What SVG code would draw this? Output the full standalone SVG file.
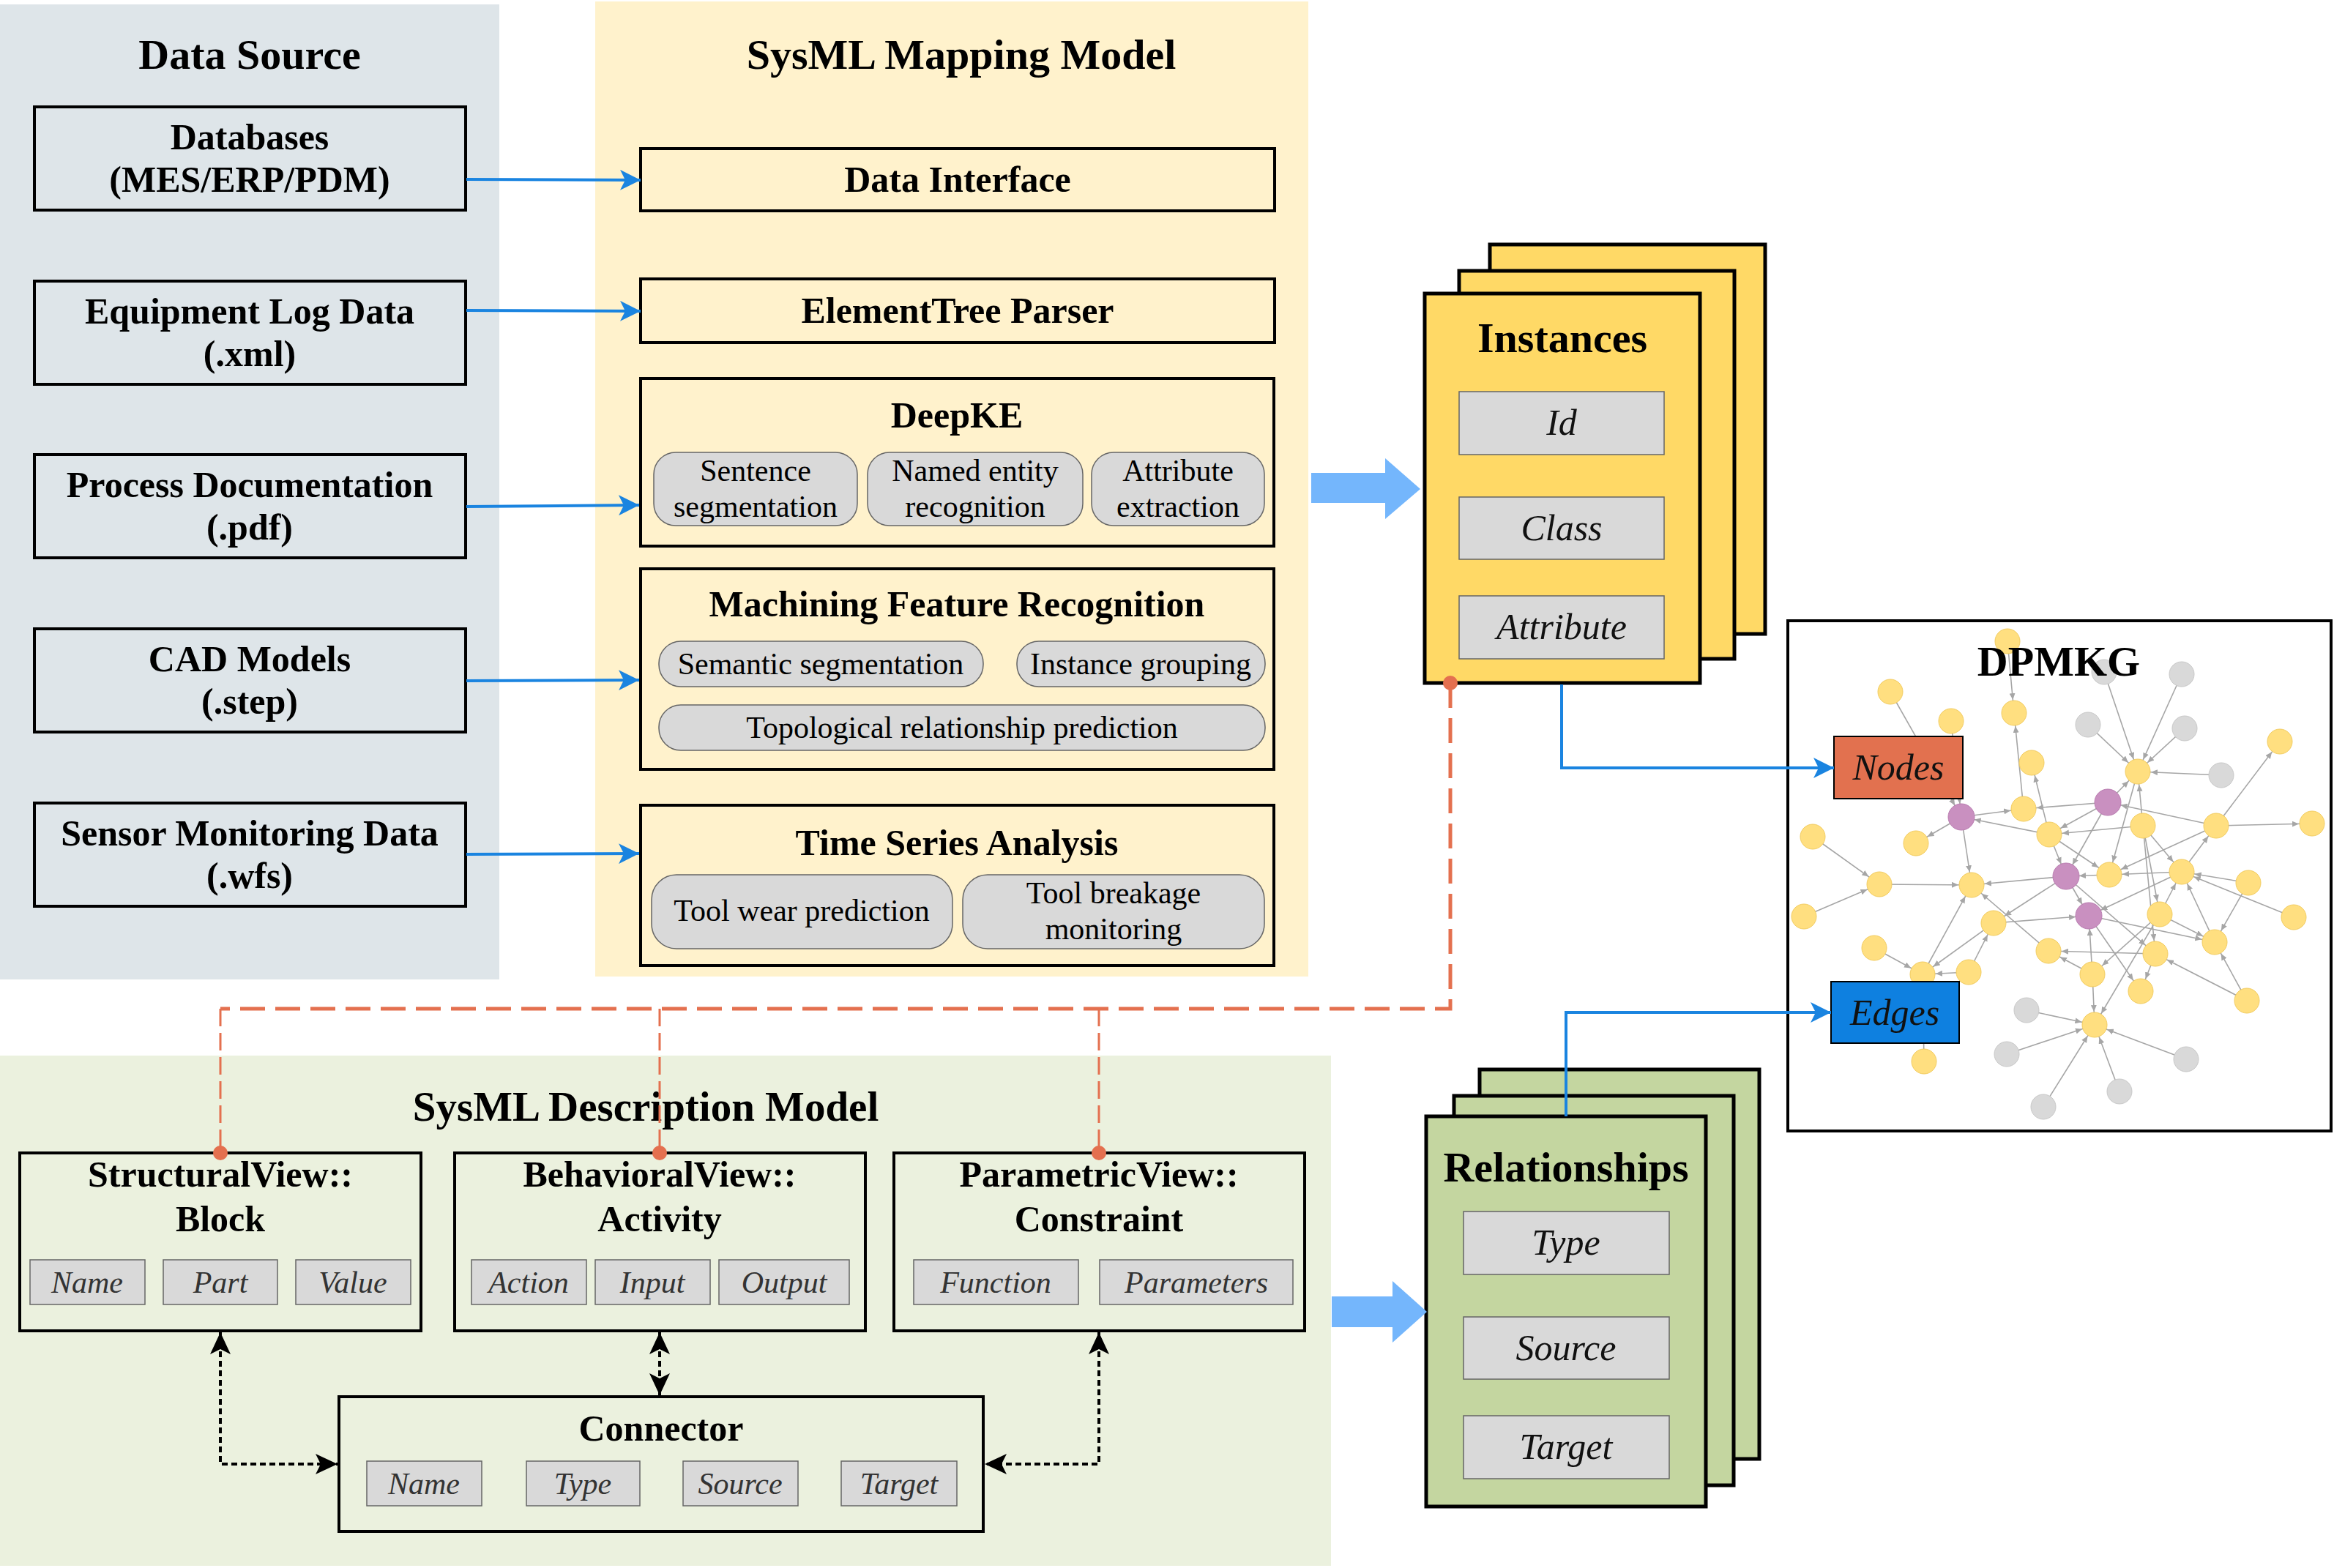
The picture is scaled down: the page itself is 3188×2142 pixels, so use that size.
<svg xmlns="http://www.w3.org/2000/svg" width="3188" height="2142" viewBox="0 0 3188 2142">
<defs>
<style>
text{font-family:"Liberation Serif","Times New Roman",serif;fill:#000;text-anchor:middle}
.title{font-size:58px;font-weight:bold}
.bt{font-size:50px;font-weight:bold}
.pt{font-size:42px}
.it{font-size:50px;font-style:italic;fill:#111}
.is{font-size:42px;font-style:italic;fill:#333}
.dsbox{fill:#DEE5E9;stroke:#000;stroke-width:4}
.mbox{fill:#FFF2CC;stroke:#000;stroke-width:4}
.pill{fill:#D9D9D9;stroke:#666;stroke-width:1.5}
.fld{fill:#D9D9D9;stroke:#666;stroke-width:1.5}
.ins{fill:#FFD966;stroke:#000;stroke-width:5}
.rel{fill:#C4D6A0;stroke:#000;stroke-width:5}
.vbox{fill:#EBF1DE;stroke:#000;stroke-width:4}
.blue{fill:none;stroke:#1A84E0;stroke-width:4;marker-end:url(#ab)}
.odash{fill:none;stroke:#E4704F;stroke-width:5;stroke-dasharray:34 14}
.odash2{fill:none;stroke:#E4704F;stroke-width:3;stroke-dasharray:24 9}
.dot{fill:#E4704F}
.blk{fill:none;stroke:#000;stroke-width:4;stroke-dasharray:8 5;marker-start:url(#ak);marker-end:url(#ak)}
.ge line{stroke:#A6A6A6;stroke-width:1.6;marker-end:url(#ag)}
.ny{fill:#FFDF80;stroke:#F2CC60;stroke-width:1}
.ng{fill:#D9D9D9;stroke:#C8C8C8;stroke-width:1}
.np{fill:#C990C0;stroke:#B97CB0;stroke-width:1}
</style>
<marker id="ab" markerUnits="userSpaceOnUse" markerWidth="30" markerHeight="28" refX="28" refY="14" orient="auto"><path d="M0,0 L28,14 L0,28 L7,14 z" fill="#1A84E0"/></marker>
<marker id="ak" markerUnits="userSpaceOnUse" markerWidth="32" markerHeight="28" refX="30" refY="14" orient="auto-start-reverse"><path d="M0,0 L30,14 L0,28 L7,14 z" fill="#000"/></marker>
<marker id="ag" markerUnits="userSpaceOnUse" markerWidth="10" markerHeight="8" refX="27" refY="4" orient="auto"><path d="M0,0 L9,4 L0,8 z" fill="#A6A6A6"/></marker>
</defs>

<rect width="3188" height="2142" fill="#fff"/>

<!-- Panels -->
<g id="panel-data-source">
<rect x="0" y="6" width="682" height="1332" fill="#DEE5E9"/>
<text class="title" x="341" y="94">Data Source</text>
</g>
<g id="panel-mapping">
<rect x="813" y="2" width="974" height="1332" fill="#FFF2CC"/>
<text class="title" x="1313" y="94">SysML Mapping Model</text>
</g>
<g id="panel-description">
<rect x="0" y="1442" width="1818" height="697" fill="#EBF1DE"/>
<text class="title" x="882" y="1531" style="font-size:57px">SysML Description Model</text>
</g>

<!-- Data source nodes -->
<g id="node-databases">
<rect class="dsbox" x="47" y="146" width="589" height="141"/>
<text class="bt" x="341" y="204">Databases</text>
<text class="bt" x="341" y="262">(MES/ERP/PDM)</text>
</g>
<g id="node-equipment-log">
<rect class="dsbox" x="47" y="384" width="589" height="141"/>
<text class="bt" x="341" y="442">Equipment Log Data</text>
<text class="bt" x="341" y="500">(.xml)</text>
</g>
<g id="node-process-doc">
<rect class="dsbox" x="47" y="621" width="589" height="141"/>
<text class="bt" x="341" y="679">Process Documentation</text>
<text class="bt" x="341" y="737">(.pdf)</text>
</g>
<g id="node-cad">
<rect class="dsbox" x="47" y="859" width="589" height="141"/>
<text class="bt" x="341" y="917">CAD Models</text>
<text class="bt" x="341" y="975">(.step)</text>
</g>
<g id="node-sensor">
<rect class="dsbox" x="47" y="1097" width="589" height="141"/>
<text class="bt" x="341" y="1155">Sensor Monitoring Data</text>
<text class="bt" x="341" y="1213">(.wfs)</text>
</g>

<!-- Mapping model nodes -->
<g id="node-data-interface">
<rect class="mbox" x="875" y="203" width="866" height="85"/>
<text class="bt" x="1308" y="262">Data Interface</text>
</g>
<g id="node-elementtree">
<rect class="mbox" x="875" y="381" width="866" height="87"/>
<text class="bt" x="1308" y="441">ElementTree Parser</text>
</g>
<g id="node-deepke">
<rect class="mbox" x="875" y="517" width="865" height="229"/>
<text class="bt" x="1307" y="584">DeepKE</text>
<rect class="pill" x="893" y="618" width="278" height="100" rx="30"/>
<text class="pt" x="1032" y="657">Sentence</text>
<text class="pt" x="1032" y="706">segmentation</text>
<rect class="pill" x="1185" y="618" width="294" height="100" rx="30"/>
<text class="pt" x="1332" y="657">Named entity</text>
<text class="pt" x="1332" y="706">recognition</text>
<rect class="pill" x="1491" y="618" width="236" height="100" rx="30"/>
<text class="pt" x="1609" y="657">Attribute</text>
<text class="pt" x="1609" y="706">extraction</text>
</g>
<g id="node-mfr">
<rect class="mbox" x="875" y="777" width="865" height="274"/>
<text class="bt" x="1307" y="842">Machining Feature Recognition</text>
<rect class="pill" x="900" y="876" width="443" height="62" rx="30"/>
<text class="pt" x="1121" y="921">Semantic segmentation</text>
<rect class="pill" x="1389" y="876" width="339" height="62" rx="30"/>
<text class="pt" x="1558" y="921">Instance grouping</text>
<rect class="pill" x="900" y="963" width="828" height="62" rx="30"/>
<text class="pt" x="1314" y="1008">Topological relationship prediction</text>
</g>
<g id="node-time-series">
<rect class="mbox" x="875" y="1100" width="865" height="219"/>
<text class="bt" x="1307" y="1168">Time Series Analysis</text>
<rect class="pill" x="890" y="1195" width="411" height="101" rx="34"/>
<text class="pt" x="1095" y="1258">Tool wear prediction</text>
<rect class="pill" x="1315" y="1195" width="412" height="101" rx="34"/>
<text class="pt" x="1521" y="1234">Tool breakage</text>
<text class="pt" x="1521" y="1283">monitoring</text>
</g>

<!-- Instances stack -->
<g id="node-instances">
<rect class="ins" x="2035" y="334" width="376" height="532"/>
<rect class="ins" x="1993" y="370" width="376" height="530"/>
<rect class="ins" x="1946" y="401" width="376" height="532"/>
<text class="title" x="2134" y="481">Instances</text>
<rect class="fld" x="1993" y="535" width="280" height="86"/>
<text class="it" x="2133" y="594">Id</text>
<rect class="fld" x="1993" y="679" width="280" height="85"/>
<text class="it" x="2133" y="738">Class</text>
<rect class="fld" x="1993" y="814" width="280" height="86"/>
<text class="it" x="2133" y="873">Attribute</text>
</g>

<!-- Relationships stack -->
<g id="node-relationships">
<rect class="rel" x="2021" y="1461" width="382" height="532"/>
<rect class="rel" x="1986" y="1497" width="382" height="532"/>
<rect class="rel" x="1948" y="1525" width="382" height="533"/>
<text class="title" x="2139" y="1614">Relationships</text>
<rect class="fld" x="1999" y="1655" width="281" height="86"/>
<text class="it" x="2139" y="1714">Type</text>
<rect class="fld" x="1999" y="1799" width="281" height="85"/>
<text class="it" x="2139" y="1858">Source</text>
<rect class="fld" x="1999" y="1934" width="281" height="86"/>
<text class="it" x="2139" y="1993">Target</text>
</g>

<!-- DPMKG -->
<g id="node-dpmkg">
<rect x="2442" y="848" width="742" height="697" fill="#fff" stroke="#000" stroke-width="4"/>
<g class="ge">
<line x1="2742" y1="876" x2="2751" y2="974"/>
<line x1="2874" y1="918" x2="2920" y2="1054"/>
<line x1="2980" y1="921" x2="2920" y2="1054"/>
<line x1="2852" y1="990" x2="2920" y2="1054"/>
<line x1="2984" y1="995" x2="2920" y2="1054"/>
<line x1="3034" y1="1059" x2="2920" y2="1054"/>
<line x1="2582" y1="945" x2="2679" y2="1116"/>
<line x1="2665" y1="985" x2="2679" y2="1116"/>
<line x1="2679" y1="1116" x2="2617" y2="1152"/>
<line x1="2679" y1="1116" x2="2693" y2="1209"/>
<line x1="2764" y1="1105" x2="2751" y2="974"/>
<line x1="2679" y1="1116" x2="2764" y2="1105"/>
<line x1="2879" y1="1096" x2="2764" y2="1105"/>
<line x1="2799" y1="1140" x2="2679" y2="1116"/>
<line x1="2799" y1="1140" x2="2775" y2="1042"/>
<line x1="2879" y1="1096" x2="2799" y2="1140"/>
<line x1="2879" y1="1096" x2="2822" y2="1197"/>
<line x1="2879" y1="1096" x2="2920" y2="1054"/>
<line x1="2927" y1="1128" x2="2799" y2="1140"/>
<line x1="2927" y1="1128" x2="2920" y2="1054"/>
<line x1="2927" y1="1128" x2="2980" y2="1191"/>
<line x1="3027" y1="1128" x2="2879" y2="1096"/>
<line x1="3027" y1="1128" x2="3114" y2="1013"/>
<line x1="3027" y1="1128" x2="3158" y2="1125"/>
<line x1="3027" y1="1128" x2="2881" y2="1195"/>
<line x1="2980" y1="1191" x2="3027" y2="1128"/>
<line x1="2920" y1="1054" x2="2881" y2="1195"/>
<line x1="2799" y1="1140" x2="2881" y2="1195"/>
<line x1="2799" y1="1140" x2="2822" y2="1197"/>
<line x1="2822" y1="1197" x2="2693" y2="1209"/>
<line x1="2881" y1="1195" x2="2822" y2="1197"/>
<line x1="2980" y1="1191" x2="2881" y2="1195"/>
<line x1="2822" y1="1197" x2="2853" y2="1251"/>
<line x1="2567" y1="1208" x2="2693" y2="1209"/>
<line x1="2476" y1="1143" x2="2567" y2="1208"/>
<line x1="2464" y1="1252" x2="2567" y2="1208"/>
<line x1="2723" y1="1261" x2="2853" y2="1251"/>
<line x1="2822" y1="1197" x2="2723" y2="1261"/>
<line x1="2798" y1="1299" x2="2693" y2="1209"/>
<line x1="2626" y1="1331" x2="2693" y2="1209"/>
<line x1="2723" y1="1261" x2="2626" y2="1331"/>
<line x1="2560" y1="1295" x2="2626" y2="1331"/>
<line x1="2689" y1="1328" x2="2626" y2="1331"/>
<line x1="2689" y1="1328" x2="2723" y2="1261"/>
<line x1="3071" y1="1206" x2="2980" y2="1191"/>
<line x1="3133" y1="1253" x2="2980" y2="1191"/>
<line x1="3071" y1="1206" x2="3025" y2="1287"/>
<line x1="3025" y1="1287" x2="2980" y2="1191"/>
<line x1="3069" y1="1367" x2="3025" y2="1287"/>
<line x1="3069" y1="1367" x2="2944" y2="1303"/>
<line x1="2950" y1="1249" x2="3025" y2="1287"/>
<line x1="2950" y1="1249" x2="2980" y2="1191"/>
<line x1="2980" y1="1191" x2="2853" y2="1251"/>
<line x1="2950" y1="1249" x2="2861" y2="1400"/>
<line x1="2950" y1="1249" x2="2858" y2="1331"/>
<line x1="2927" y1="1128" x2="2950" y2="1249"/>
<line x1="2853" y1="1251" x2="3025" y2="1287"/>
<line x1="2822" y1="1197" x2="2944" y2="1303"/>
<line x1="2853" y1="1251" x2="2924" y2="1354"/>
<line x1="2944" y1="1303" x2="2798" y2="1299"/>
<line x1="2858" y1="1331" x2="2798" y2="1299"/>
<line x1="2858" y1="1331" x2="2853" y2="1251"/>
<line x1="2858" y1="1331" x2="2861" y2="1400"/>
<line x1="2944" y1="1303" x2="2924" y2="1354"/>
<line x1="2927" y1="1128" x2="2944" y2="1303"/>
<line x1="2768" y1="1380" x2="2861" y2="1400"/>
<line x1="2741" y1="1440" x2="2861" y2="1400"/>
<line x1="2986" y1="1447" x2="2861" y2="1400"/>
<line x1="2895" y1="1491" x2="2861" y2="1400"/>
<line x1="2791" y1="1512" x2="2861" y2="1400"/>
<line x1="2628" y1="1450" x2="2626" y2="1331"/>
</g>
<g>
<circle class="ny" cx="2742" cy="876" r="17"/>
<circle class="ng" cx="2874" cy="918" r="17"/>
<circle class="ng" cx="2980" cy="921" r="17"/>
<circle class="ny" cx="2582" cy="945" r="17"/>
<circle class="ny" cx="2751" cy="974" r="17"/>
<circle class="ny" cx="2665" cy="985" r="17"/>
<circle class="ng" cx="2852" cy="990" r="17"/>
<circle class="ng" cx="2984" cy="995" r="17"/>
<circle class="ny" cx="3114" cy="1013" r="17"/>
<circle class="ny" cx="2775" cy="1042" r="17"/>
<circle class="ny" cx="2920" cy="1054" r="17"/>
<circle class="ng" cx="3034" cy="1059" r="17"/>
<circle class="np" cx="2879" cy="1096" r="18"/>
<circle class="ny" cx="2764" cy="1105" r="17"/>
<circle class="np" cx="2679" cy="1116" r="18"/>
<circle class="ny" cx="2927" cy="1128" r="17"/>
<circle class="ny" cx="3027" cy="1128" r="17"/>
<circle class="ny" cx="3158" cy="1125" r="17"/>
<circle class="ny" cx="2799" cy="1140" r="17"/>
<circle class="ny" cx="2476" cy="1143" r="17"/>
<circle class="ny" cx="2617" cy="1152" r="17"/>
<circle class="np" cx="2822" cy="1197" r="18"/>
<circle class="ny" cx="2881" cy="1195" r="17"/>
<circle class="ny" cx="2980" cy="1191" r="17"/>
<circle class="ny" cx="2567" cy="1208" r="17"/>
<circle class="ny" cx="2693" cy="1209" r="17"/>
<circle class="ny" cx="3071" cy="1206" r="17"/>
<circle class="ny" cx="2464" cy="1252" r="17"/>
<circle class="np" cx="2853" cy="1251" r="18"/>
<circle class="ny" cx="2950" cy="1249" r="17"/>
<circle class="ny" cx="3133" cy="1253" r="17"/>
<circle class="ny" cx="2723" cy="1261" r="17"/>
<circle class="ny" cx="2560" cy="1295" r="17"/>
<circle class="ny" cx="2798" cy="1299" r="17"/>
<circle class="ny" cx="2944" cy="1303" r="17"/>
<circle class="ny" cx="3025" cy="1287" r="17"/>
<circle class="ny" cx="2626" cy="1331" r="17"/>
<circle class="ny" cx="2689" cy="1328" r="17"/>
<circle class="ny" cx="2858" cy="1331" r="17"/>
<circle class="ny" cx="2924" cy="1354" r="17"/>
<circle class="ny" cx="3069" cy="1367" r="17"/>
<circle class="ng" cx="2768" cy="1380" r="17"/>
<circle class="ny" cx="2861" cy="1400" r="17"/>
<circle class="ng" cx="2741" cy="1440" r="17"/>
<circle class="ng" cx="2986" cy="1447" r="17"/>
<circle class="ny" cx="2628" cy="1450" r="17"/>
<circle class="ng" cx="2895" cy="1491" r="17"/>
<circle class="ng" cx="2791" cy="1512" r="17"/>
</g>
<text class="title" x="2812" y="923">DPMKG</text>
</g>

<g id="node-nodes">
<rect x="2505" y="1006" width="176" height="85" fill="#E2714F" stroke="#000" stroke-width="2"/>
<text class="it" x="2593" y="1065">Nodes</text>
</g>
<g id="node-edges">
<rect x="2501" y="1341" width="175" height="84" fill="#0E80E0" stroke="#000" stroke-width="2"/>
<text class="it" x="2588" y="1400">Edges</text>
</g>

<!-- Description model nodes -->
<g id="node-structural">
<rect class="vbox" x="27" y="1575" width="548" height="243"/>
<text class="bt" x="301" y="1621">StructuralView::</text>
<text class="bt" x="301" y="1682">Block</text>
<rect class="fld" x="41" y="1721" width="157" height="61"/>
<text class="is" x="119" y="1766">Name</text>
<rect class="fld" x="223" y="1721" width="156" height="61"/>
<text class="is" x="301" y="1766">Part</text>
<rect class="fld" x="404" y="1721" width="157" height="61"/>
<text class="is" x="482" y="1766">Value</text>
</g>
<g id="node-behavioral">
<rect class="vbox" x="621" y="1575" width="561" height="243"/>
<text class="bt" x="901" y="1621">BehavioralView::</text>
<text class="bt" x="901" y="1682">Activity</text>
<rect class="fld" x="644" y="1721" width="157" height="61"/>
<text class="is" x="722" y="1766">Action</text>
<rect class="fld" x="813" y="1721" width="157" height="61"/>
<text class="is" x="891" y="1766">Input</text>
<rect class="fld" x="982" y="1721" width="178" height="61"/>
<text class="is" x="1071" y="1766">Output</text>
</g>
<g id="node-parametric">
<rect class="vbox" x="1221" y="1575" width="561" height="243"/>
<text class="bt" x="1501" y="1621">ParametricView::</text>
<text class="bt" x="1501" y="1682">Constraint</text>
<rect class="fld" x="1248" y="1721" width="225" height="61"/>
<text class="is" x="1360" y="1766">Function</text>
<rect class="fld" x="1502" y="1721" width="264" height="61"/>
<text class="is" x="1634" y="1766">Parameters</text>
</g>
<g id="node-connector">
<rect class="vbox" x="463" y="1908" width="880" height="184"/>
<text class="bt" x="903" y="1968">Connector</text>
<rect class="fld" x="501" y="1996" width="157" height="61"/>
<text class="is" x="579" y="2041">Name</text>
<rect class="fld" x="719" y="1996" width="155" height="61"/>
<text class="is" x="796" y="2041">Type</text>
<rect class="fld" x="933" y="1996" width="157" height="61"/>
<text class="is" x="1011" y="2041">Source</text>
<rect class="fld" x="1149" y="1996" width="158" height="61"/>
<text class="is" x="1228" y="2041">Target</text>
</g>

<!-- Connectors -->
<g id="connectors">
<path class="blue" d="M637,245 L875,246"/>
<path class="blue" d="M637,424 L875,425"/>
<path class="blue" d="M637,692 L873,690"/>
<path class="blue" d="M637,930 L873,929"/>
<path class="blue" d="M637,1167 L873,1166"/>
<path d="M1791,646 H1892 V626 L1940,668 L1892,709 V687 H1791 Z" fill="#74B6FC"/>
<path d="M1819,1771 H1902 V1750 L1949,1792 L1902,1834 V1813 H1819 Z" fill="#74B6FC"/>
<path class="blue" d="M2133,935 V1049 H2505"/>
<path class="blue" d="M2139,1525 V1383 H2501"/>
<path class="odash" d="M1981,933 V1378 H301"/>
<path class="odash2" d="M301,1378 V1575"/>
<path class="odash2" d="M901,1378 V1575"/>
<path class="odash2" d="M1501,1378 V1575"/>
<circle class="dot" cx="1981" cy="933" r="10"/>
<circle class="dot" cx="301" cy="1575" r="10"/>
<circle class="dot" cx="901" cy="1575" r="10"/>
<circle class="dot" cx="1501" cy="1575" r="10"/>
<path class="blk" d="M301,1820 V2000 H461"/>
<path class="blk" d="M901,1820 V1906"/>
<path class="blk" d="M1501,1820 V2000 H1345"/>
</g>
</svg>
